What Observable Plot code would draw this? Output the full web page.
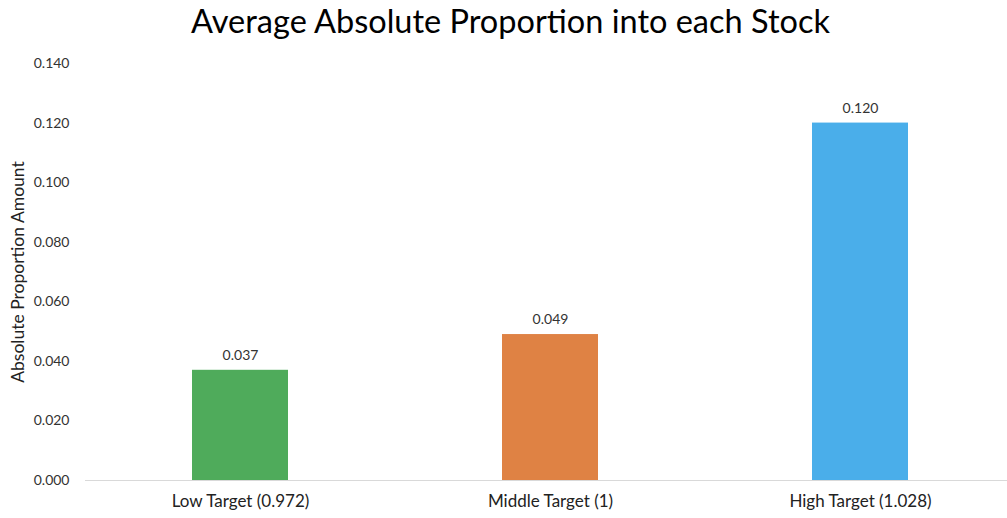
<!DOCTYPE html>
<html>
<head>
<meta charset="utf-8">
<script src="https://cdn.jsdelivr.net/npm/d3@7"></script>
<script src="https://cdn.jsdelivr.net/npm/@observablehq/plot@0.6"></script>
<style>
  html, body { margin: 0; padding: 0; background: #fff; }
  #chart svg { display: block; }
</style>
</head>
<body>
<div id="chart"></div>
<script>
const titleText = "Average Absolute Proportion into each Stock";
const yLabel = "Absolute Proportion Amount";
const categories = ["Low Target (0.972)", "Middle Target (1)", "High Target (1.028)"];
const values = [0.037, 0.049, 0.120];
const colors = ["#4fab5b", "#df8244", "#4aaeea"];
const yTicks = [0, 0.02, 0.04, 0.06, 0.08, 0.1, 0.12, 0.14];

const data = categories.map((c, i) => ({category: c, value: values[i], color: colors[i]}));

const chart = Plot.plot({
  width: 1007,
  height: 518,
  marginLeft: 85,
  marginRight: 0,
  marginTop: 63,
  marginBottom: 38,
  style: {fontFamily: "Lato, 'Open Sans', sans-serif", color: "#333", background: "#fff"},
  x: {domain: categories, range: [85, 1016], paddingInner: 0.69, paddingOuter: 0.345},
  y: {domain: [0, 0.14]},
  marks: [
    Plot.axisY({
      ticks: yTicks, tickFormat: d3.format(".3f"), tickSize: 0, tickPadding: 16,
      fontSize: 14, label: null
    }),
    Plot.text([yLabel], {frameAnchor: "left", textAnchor: "middle", dx: -67, rotate: -90, fontSize: 17.5, fill: "#222"}),
    Plot.axisX({tickSize: 0, tickPadding: 14, fontSize: 17, label: null, fill: "#222"}),
    Plot.barY(data, {x: "category", y: "value", fill: "color"}),
    Plot.ruleY([0], {stroke: "#d9d9d9", strokeWidth: 1.2}),
    Plot.text(data, {x: "category", y: "value", text: d => d3.format(".3f")(d.value), dy: -15, fontSize: 14, fill: "#333"}),
    Plot.text([titleText], {frameAnchor: "top", dx: -36, dy: -41, fontSize: 32.5, fill: "#000", lineAnchor: "middle"})
  ]
});
document.getElementById("chart").append(chart);
</script>
</body>
</html>
